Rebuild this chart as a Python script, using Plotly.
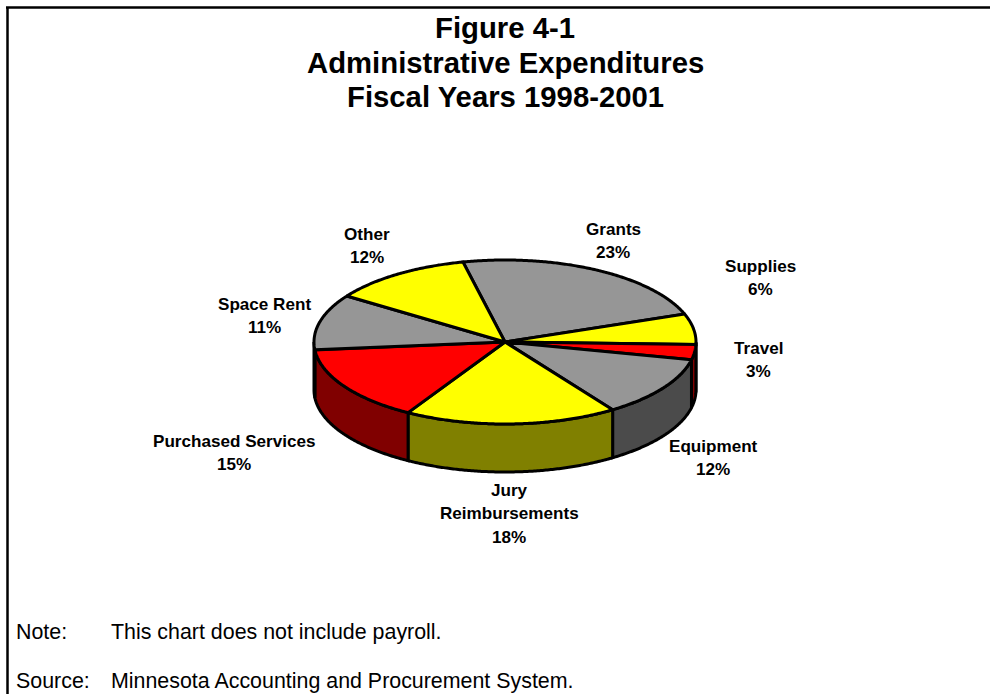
import numpy as np
import plotly.graph_objects as go

# Share of administrative spending, clockwise from the top of the pie
categories = ["Grants", "Supplies", "Travel", "Equipment", "Jury Reimbursements",
              "Purchased Services", "Space Rent", "Other"]
shares = [23, 6, 3, 12, 18, 15, 11, 12]
top_colors = ["#969696", "#FFFF00", "#FF0000", "#969696", "#FFFF00",
              "#FF0000", "#969696", "#FFFF00"]
side_colors = ["#4B4B4B", "#808000", "#800000", "#4B4B4B", "#808000",
               "#800000", "#4B4B4B", "#808000"]
label_lines = [["Grants"], ["Supplies"], ["Travel"], ["Equipment"],
               ["Jury", "Reimbursements"], ["Purchased Services"],
               ["Space Rent"], ["Other"]]
label_x = [613, 760, 758, 713, 509, 234, 264, 367]
label_y = [229, 266, 348, 446, 490, 441, 304, 234]
title_lines = ["Figure 4-1", "Administrative Expenditures", "Fiscal Years 1998-2001"]
notes = [("Note:", "This chart does not include payroll.", 632),
         ("Source:", "Minnesota Accounting and Procurement System.", 681)]

# Page-pixel canvas and the tilted pie's projection
WIDTH, HEIGHT = 990, 694
CX, CY, RX, RY, DEPTH = 505, 342, 191, 82, 48
START_DEG = -12.7
FONT = "Liberation Sans, Arial, sans-serif"


def rim(a, b, drop=0.0):
    t = np.radians(np.linspace(a, b, max(int(abs(b - a)) * 2, 2)))
    return CX + RX * np.sin(t), CY - RY * np.cos(t) + drop


fig = go.Figure()


def polygon(x, y, color):
    fig.add_trace(go.Scatter(x=x, y=y, mode="lines", fill="toself", fillcolor=color,
                             line=dict(color="black", width=3, simplify=False),
                             hoverinfo="skip", showlegend=False))


edges = START_DEG + np.concatenate([[0], np.cumsum(shares)]) * 3.6

# Outer wall: only the front half of the rim faces the viewer
for i in range(len(shares)):
    a, b = max(edges[i], 90), min(edges[i + 1], 270)
    if b > a:
        xt, yt = rim(a, b)
        xb, yb = rim(b, a, DEPTH)
        polygon(np.r_[xt, xb, xt[0]], np.r_[yt, yb, yt[0]], side_colors[i])

# Top face wedges
for i in range(len(shares)):
    xt, yt = rim(edges[i], edges[i + 1])
    polygon(np.r_[CX, xt, CX], np.r_[CY, yt, CY], top_colors[i])


def text(x, y, s, size, bold=False, anchor="center"):
    fig.add_annotation(x=x, y=y, text=f"<b>{s}</b>" if bold else s, showarrow=False,
                       xanchor=anchor, yanchor="middle", xref="x", yref="y",
                       font=dict(family=FONT, size=size, color="black"))


for y, line in zip([27, 62, 96], title_lines):
    text(505, y, line, 29.3, bold=True)

# Slice labels: name lines followed by the percentage
for lines, share, x, y in zip(label_lines, shares, label_x, label_y):
    for k, line in enumerate(lines + [f"{share}%"]):
        text(x, y + k * 23.5, line, 17.1, bold=True)

for head, body, y in notes:
    text(14, y, head, 21.4, anchor="left")
    text(109, y, body, 21.4, anchor="left")

# Frame along the top and left edges
frame = dict(type="line", xref="x", yref="y", line=dict(color="black", width=2.5))
shapes = [dict(frame, x0=6, x1=WIDTH, y0=7.5, y1=7.5),
          dict(frame, x0=7.5, x1=7.5, y0=7, y1=HEIGHT)]

axis = dict(visible=False, fixedrange=True)
fig.update_layout(width=WIDTH, height=HEIGHT, margin=dict(l=0, r=0, t=0, b=0),
                  paper_bgcolor="white", plot_bgcolor="white", shapes=shapes,
                  xaxis=dict(axis, range=[0, WIDTH]),
                  yaxis=dict(axis, range=[HEIGHT, 0]))
fig.write_html("out.html", config=dict(displayModeBar=False))
